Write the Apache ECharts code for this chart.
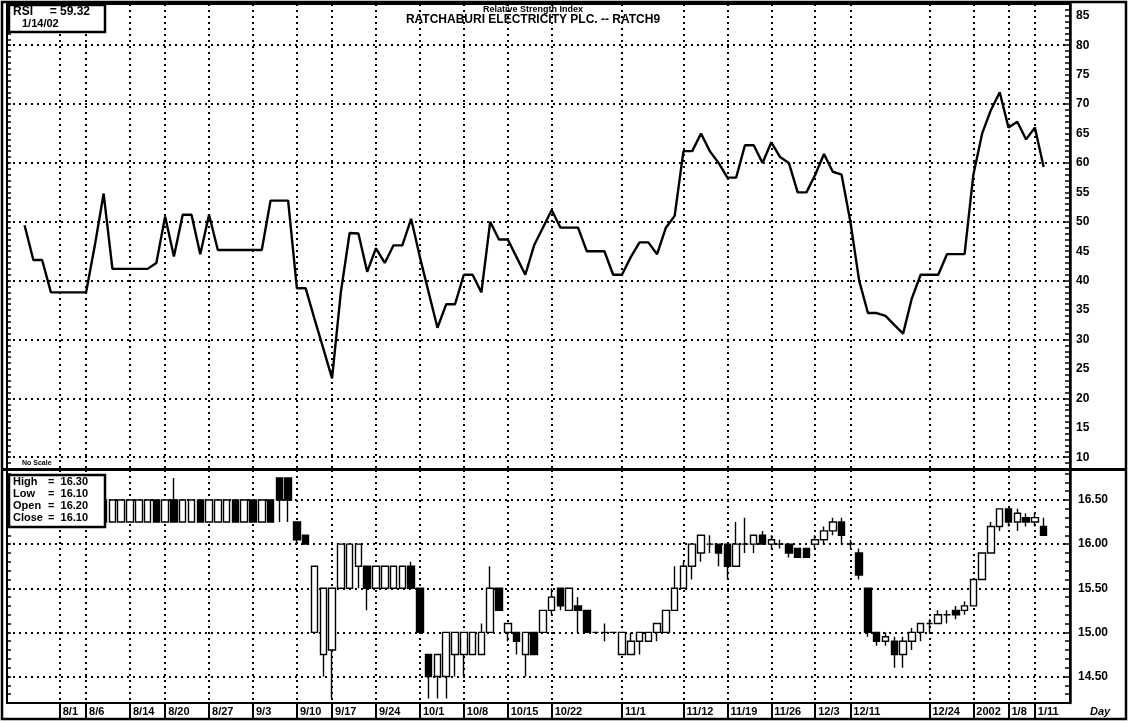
<!DOCTYPE html>
<html><head><meta charset="utf-8">
<script src="https://cdn.jsdelivr.net/npm/echarts@6/dist/echarts.min.js"></script>
<style>html,body{margin:0;padding:0;background:#fff}#c{width:1130px;height:722px}</style>
</head><body><div id="c"></div>
<script>
// ---- data ----
const dates = [
'7/25','7/26','7/27','7/30','7/31',
'8/1','8/2','8/3','8/6','8/7','8/8','8/9','8/10','8/14','8/15','8/16','8/17','8/20','8/21','8/22','8/23','8/24','8/27','8/28','8/29','8/30','8/31',
'9/3','9/4','9/5','9/6','9/7','9/10','9/11','9/12','9/13','9/17','9/18','9/19','9/20','9/21','9/24','9/25','9/26','9/27','9/28',
'10/1','10/2','10/3','10/4','10/5','10/8','10/9','10/10','10/11','10/12','10/15','10/16','10/17','10/18','10/19','10/22','10/23','10/24','10/25','10/26','10/29','10/30','10/31',
'11/1','11/2','11/5','11/6','11/7','11/8','11/9','11/12','11/13','11/14','11/15','11/16','11/19','11/20','11/21','11/22','11/23','11/26','11/27','11/28','11/29','11/30',
'12/3','12/4','12/6','12/7','12/11','12/12','12/13','12/14','12/17','12/18','12/19','12/20','12/21','12/24','12/25','12/26','12/27','12/28',
'1/2','1/3','1/4','1/7','1/8','1/9','1/10','1/11','1/14'
];
const tickDates = ['8/1','8/6','8/14','8/20','8/27','9/3','9/10','9/17','9/24','10/1','10/8','10/15','10/22','11/1','11/12','11/19','11/26','12/3','12/11','12/24','1/2','1/8','1/11'];
const tickText  = ['8/1','8/6','8/14','8/20','8/27','9/3','9/10','9/17','9/24','10/1','10/8','10/15','10/22','11/1','11/12','11/19','11/26','12/3','12/11','12/24','2002','1/8','1/11'];

const rsi = [
null,49.4,43.5,43.5,38,38,38,38,38,46,
54.8,42,42,42,42,42,43,50.9,44.1,51.2,
51.2,44.5,51.2,45.2,45.2,45.2,45.2,45.2,45.2,53.6,
53.6,53.6,38.7,38.7,33.5,28.5,23.4,38,48.1,48,
41.5,45.5,43,46,46,50.5,44,38,32,36,
36,41,41,38,50,47,47,44,41,46,
49,52,49,49,49,45,45,45,41,41,
44,46.5,46.5,44.5,49,51,62,62,65,62,
60,57.5,57.5,63,63,60,63.5,61,60,55,
55,58,61.5,58.5,58,50,40,34.5,34.5,34,
32.5,31,37,41,41,41,44.5,44.5,44.5,58,
65,69,72,66,67,64,66,59.32
];

const openP = [
16.25,16.50,16.25,16.25,16.50,16.25,16.25,16.50,16.25,16.25,
16.25,16.25,16.25,16.25,16.25,16.25,16.50,16.25,16.50,16.25,
16.25,16.50,16.25,16.25,16.25,16.50,16.25,16.50,16.25,16.50,
16.75,16.75,16.25,16.10,15.00,14.75,14.80,15.50,15.50,15.75,
15.75,15.50,15.50,15.50,15.50,15.75,15.50,14.75,14.50,14.50,
14.75,14.75,14.75,14.75,15.00,15.50,15.00,15.00,14.75,15.00,
15.00,15.25,15.50,15.25,15.30,15.25,15.00,15.00,15.00,14.75,
14.75,14.90,14.90,15.00,15.00,15.25,15.50,15.75,15.90,16.00,
16.00,16.00,15.75,16.00,16.00,16.10,16.00,16.00,16.00,15.95,
15.95,16.00,16.05,16.15,16.25,16.00,15.90,15.50,15.00,14.90,
14.90,14.75,14.90,15.00,15.10,15.10,15.20,15.25,15.25,15.30,
15.60,15.90,16.20,16.40,16.25,16.30,16.25,16.20
];
const closeP = [
16.50,16.25,16.50,16.50,16.25,16.50,16.50,16.25,16.50,16.50,
16.50,16.50,16.50,16.50,16.50,16.50,16.25,16.50,16.25,16.50,
16.50,16.25,16.50,16.50,16.50,16.25,16.50,16.25,16.50,16.25,
16.50,16.50,16.05,16.00,15.75,15.50,15.50,16.00,16.00,16.00,
15.50,15.75,15.75,15.75,15.75,15.50,15.00,14.50,14.75,15.00,
15.00,15.00,15.00,15.00,15.50,15.25,15.10,14.90,15.00,14.75,
15.25,15.40,15.30,15.50,15.25,15.00,15.00,15.00,15.00,15.00,
14.90,15.00,15.00,15.10,15.25,15.50,15.75,16.00,16.10,16.00,
15.90,15.75,16.00,16.00,16.10,16.00,16.05,16.00,15.90,15.85,
15.85,16.05,16.15,16.25,16.10,16.00,15.65,15.00,14.90,14.95,
14.75,14.90,15.00,15.10,15.10,15.20,15.20,15.20,15.30,15.60,
15.90,16.20,16.40,16.25,16.35,16.25,16.30,16.10
];
const lowP = [
16.25,16.25,16.25,16.25,16.25,16.25,16.25,16.25,16.25,16.25,
16.25,16.25,16.25,16.25,16.25,16.25,16.25,16.25,16.25,16.25,
16.25,16.25,16.25,16.25,16.25,16.25,16.25,16.25,16.25,16.25,
16.25,16.25,16.00,16.00,15.00,14.50,14.25,15.50,15.50,15.50,
15.25,15.50,15.50,15.50,15.50,15.50,15.00,14.25,14.25,14.25,
14.50,14.50,14.75,14.75,15.00,15.25,14.90,14.75,14.50,14.75,
15.00,15.20,15.25,15.25,15.00,15.00,15.00,14.90,15.00,14.75,
14.75,14.75,14.90,14.90,15.00,15.25,15.50,15.60,15.80,15.90,
15.75,15.60,15.75,15.90,15.90,16.00,15.95,15.95,15.85,15.85,
15.85,15.95,16.00,16.10,16.00,15.95,15.60,14.95,14.85,14.85,
14.60,14.60,14.80,14.90,15.00,15.10,15.10,15.15,15.20,15.30,
15.60,15.90,16.15,16.20,16.15,16.20,16.20,16.10
];
const highP = [
16.50,16.50,16.50,16.50,16.50,16.50,16.50,16.50,16.50,16.50,
16.50,16.50,16.50,16.50,16.50,16.50,16.50,16.50,16.75,16.50,
16.50,16.50,16.50,16.50,16.50,16.50,16.50,16.50,16.50,16.50,
16.75,16.75,16.25,16.10,15.75,15.50,15.50,16.00,16.00,16.00,
15.75,15.75,15.75,15.75,15.75,15.80,15.50,14.75,14.75,15.00,
15.00,15.00,15.00,15.10,15.75,15.50,15.10,15.00,15.00,15.00,
15.25,15.50,15.50,15.50,15.40,15.25,15.00,15.10,15.00,15.00,
15.00,15.00,15.00,15.10,15.25,15.75,15.80,16.00,16.10,16.10,
16.00,16.00,16.25,16.30,16.10,16.15,16.10,16.05,16.00,15.95,
15.95,16.10,16.20,16.30,16.30,16.05,15.95,15.50,15.00,15.00,
14.95,14.95,15.05,15.10,15.15,15.25,15.25,15.30,15.35,15.60,
15.90,16.25,16.40,16.40,16.40,16.35,16.35,16.30
];
const rsiGridValues = [10,20,30,40,50,60,70,80];
const priceGridValues = [14.5,15.0,15.5,16.0,16.5];

// ---- build ----
const FONT = '"Liberation Sans Narrow","Liberation Sans",Arial,sans-serif';
const padStart = [''];
const padEnd = [' ','  ','   '];
const cats = padStart.concat(dates, padEnd);
const rsiData = [null].concat(rsi, [null,null,null]);
const candleData = ['-'].concat(dates.map((d,i)=>[openP[i],closeP[i],lowP[i],highP[i]]), ['-','-','-']);
const isTick = (idx, val) => tickDates.indexOf(val) >= 0;
const tickFmt = val => { const k = tickDates.indexOf(val); return k >= 0 ? tickText[k] : ''; };

const L = 7, R = 60;
const T1 = 4, H1 = 465, T2 = 470, H2 = 233;
const dotted = {color:'#000', type:[2,4], width:2};

const gridLine = vals => ({
  silent:true, symbol:['none','none'], label:{show:false}, animation:false,
  lineStyle: dotted, emphasis:{disabled:true},
  data: vals.map(v=>({yAxis:v}))
});

const chart = echarts.init(document.getElementById('c'), null, {renderer:'canvas'});
chart.setOption({
  animation:false,
  backgroundColor:'#fff',
  textStyle:{fontFamily:FONT, color:'#000'},
  grid:[
    {left:L, right:R, top:T1, height:H1, show:true, borderColor:'#000', borderWidth:2, backgroundColor:'transparent'},
    {left:L, right:R, top:T2, height:H2, show:true, borderColor:'#000', borderWidth:2, backgroundColor:'transparent'}
  ],
  xAxis:[
    {type:'category', gridIndex:0, data:cats, boundaryGap:false,
     axisLine:{show:false}, axisTick:{show:false}, axisLabel:{show:false},
     splitLine:{show:true, interval:isTick, lineStyle:dotted}},
    {type:'category', gridIndex:1, data:cats, boundaryGap:false,
     axisLine:{show:true, lineStyle:{color:'#000', width:2}},
     axisTick:{show:true, interval:isTick, length:16, lineStyle:{color:'#000', width:2}},
     axisLabel:{show:true, interval:isTick, formatter:tickFmt, align:'left', padding:[0,0,0,3], margin:3,
       fontFamily:FONT, fontWeight:'bold', fontSize:11, color:'#000'},
     splitLine:{show:true, interval:isTick, lineStyle:dotted}}
  ],
  yAxis:[
    {type:'value', gridIndex:0, position:'right', min:8, max:87, interval:1,
     axisLine:{show:true, lineStyle:{color:'#000', width:2.5}},
     axisTick:{show:true, inside:true, length:5, lineStyle:{color:'#000', width:1.5}},
     axisLabel:{margin:6, fontFamily:FONT, fontWeight:'bold', fontSize:12, color:'#000',
       formatter: v => (v % 5 === 0 && v >= 10 && v <= 85) ? String(v) : ''},
     splitLine:{show:false}},
    {type:'value', gridIndex:1, position:'right', min:14.2, max:16.84, interval:0.1,
     axisLine:{show:true, lineStyle:{color:'#000', width:2.5}},
     axisTick:{show:true, inside:true, length:5, lineStyle:{color:'#000', width:1.5}},
     axisLabel:{margin:8, fontFamily:FONT, fontWeight:'bold', fontSize:12, color:'#000',
       formatter: v => { const r = Math.round(v*100)/100; return (Math.abs(r*2 - Math.round(r*2)) < 1e-6 && r >= 14.5 && r <= 16.5) ? r.toFixed(2) : ''; }},
     splitLine:{show:false}},
    {type:'value', gridIndex:0, position:'left', min:8, max:87, interval:1,
     axisLine:{show:false}, axisLabel:{show:false}, splitLine:{show:false},
     axisTick:{show:true, inside:true, length:4, lineStyle:{color:'#000', width:1.5}}},
    {type:'value', gridIndex:1, position:'left', min:14.2, max:16.84, interval:0.1,
     axisLine:{show:false}, axisLabel:{show:false}, splitLine:{show:false},
     axisTick:{show:true, inside:true, length:4, lineStyle:{color:'#000', width:1.5}}}
  ],
  series:[
    {type:'line', xAxisIndex:0, yAxisIndex:0, data:rsiData, showSymbol:false, symbol:'none',
     lineStyle:{color:'#000', width:2.4}, itemStyle:{color:'#000'}, connectNulls:false, z:5,
     markLine: gridLine(rsiGridValues)},
    {type:'candlestick', xAxisIndex:1, yAxisIndex:1, data:candleData, barWidth:'80%', z:5,
     itemStyle:{color:'#fff', color0:'#000', borderColor:'#000', borderColor0:'#000', borderColorDoji:'#000', borderWidth:1.4},
     markLine: gridLine(priceGridValues)}
  ],
  graphic:[
    {type:'rect', z:100, shape:{x:2, y:2, width:1124, height:717}, style:{fill:'none', stroke:'#000', lineWidth:2.5}, silent:true},
    {type:'line', z:100, shape:{x1:2, y1:T2-0.5, x2:1126, y2:T2-0.5}, style:{stroke:'#000', lineWidth:3}, silent:true},
    {type:'rect', z:100, shape:{x:9, y:5, width:96, height:27}, style:{fill:'#fff', stroke:'#000', lineWidth:2.5}, silent:true},
    {type:'text', z:101, style:{x:13, y:12, text:'RSI     = 59.32', font:'bold 12px '+FONT, fill:'#000', verticalAlign:'middle'}},
    {type:'text', z:101, style:{x:22, y:24, text:'1/14/02', font:'bold 11px '+FONT, fill:'#000', verticalAlign:'middle'}},
    {type:'text', z:101, style:{x:533, y:10, text:'Relative Strength Index', font:'bold 9px '+FONT, fill:'#000', align:'center', verticalAlign:'middle'}},
    {type:'text', z:101, style:{x:533, y:20, text:'RATCHABURI ELECTRICITY PLC. -- RATCH9', font:'bold 12px '+FONT, fill:'#000', align:'center', verticalAlign:'middle'}},
    {type:'text', z:101, style:{x:22, y:463, text:'No Scale', font:'bold 7px '+FONT, fill:'#000', verticalAlign:'middle'}},
    {type:'rect', z:100, shape:{x:9, y:475, width:96, height:52}, style:{fill:'#fff', stroke:'#000', lineWidth:2.5}, silent:true},
    {type:'text', z:101, style:{x:13, y:482, text:'High', font:'bold 11px '+FONT, fill:'#000', verticalAlign:'middle'}},
    {type:'text', z:101, style:{x:13, y:494, text:'Low', font:'bold 11px '+FONT, fill:'#000', verticalAlign:'middle'}},
    {type:'text', z:101, style:{x:13, y:506, text:'Open', font:'bold 11px '+FONT, fill:'#000', verticalAlign:'middle'}},
    {type:'text', z:101, style:{x:13, y:518, text:'Close', font:'bold 11px '+FONT, fill:'#000', verticalAlign:'middle'}},
    {type:'text', z:101, style:{x:48, y:482, text:'=  16.30', font:'bold 11px '+FONT, fill:'#000', verticalAlign:'middle'}},
    {type:'text', z:101, style:{x:48, y:494, text:'=  16.10', font:'bold 11px '+FONT, fill:'#000', verticalAlign:'middle'}},
    {type:'text', z:101, style:{x:48, y:506, text:'=  16.20', font:'bold 11px '+FONT, fill:'#000', verticalAlign:'middle'}},
    {type:'text', z:101, style:{x:48, y:518, text:'=  16.10', font:'bold 11px '+FONT, fill:'#000', verticalAlign:'middle'}},
    {type:'text', z:101, style:{x:1090, y:712, text:'Day', font:'italic bold 11px '+FONT, fill:'#000', verticalAlign:'middle'}}
  ]
});
</script></body></html>
